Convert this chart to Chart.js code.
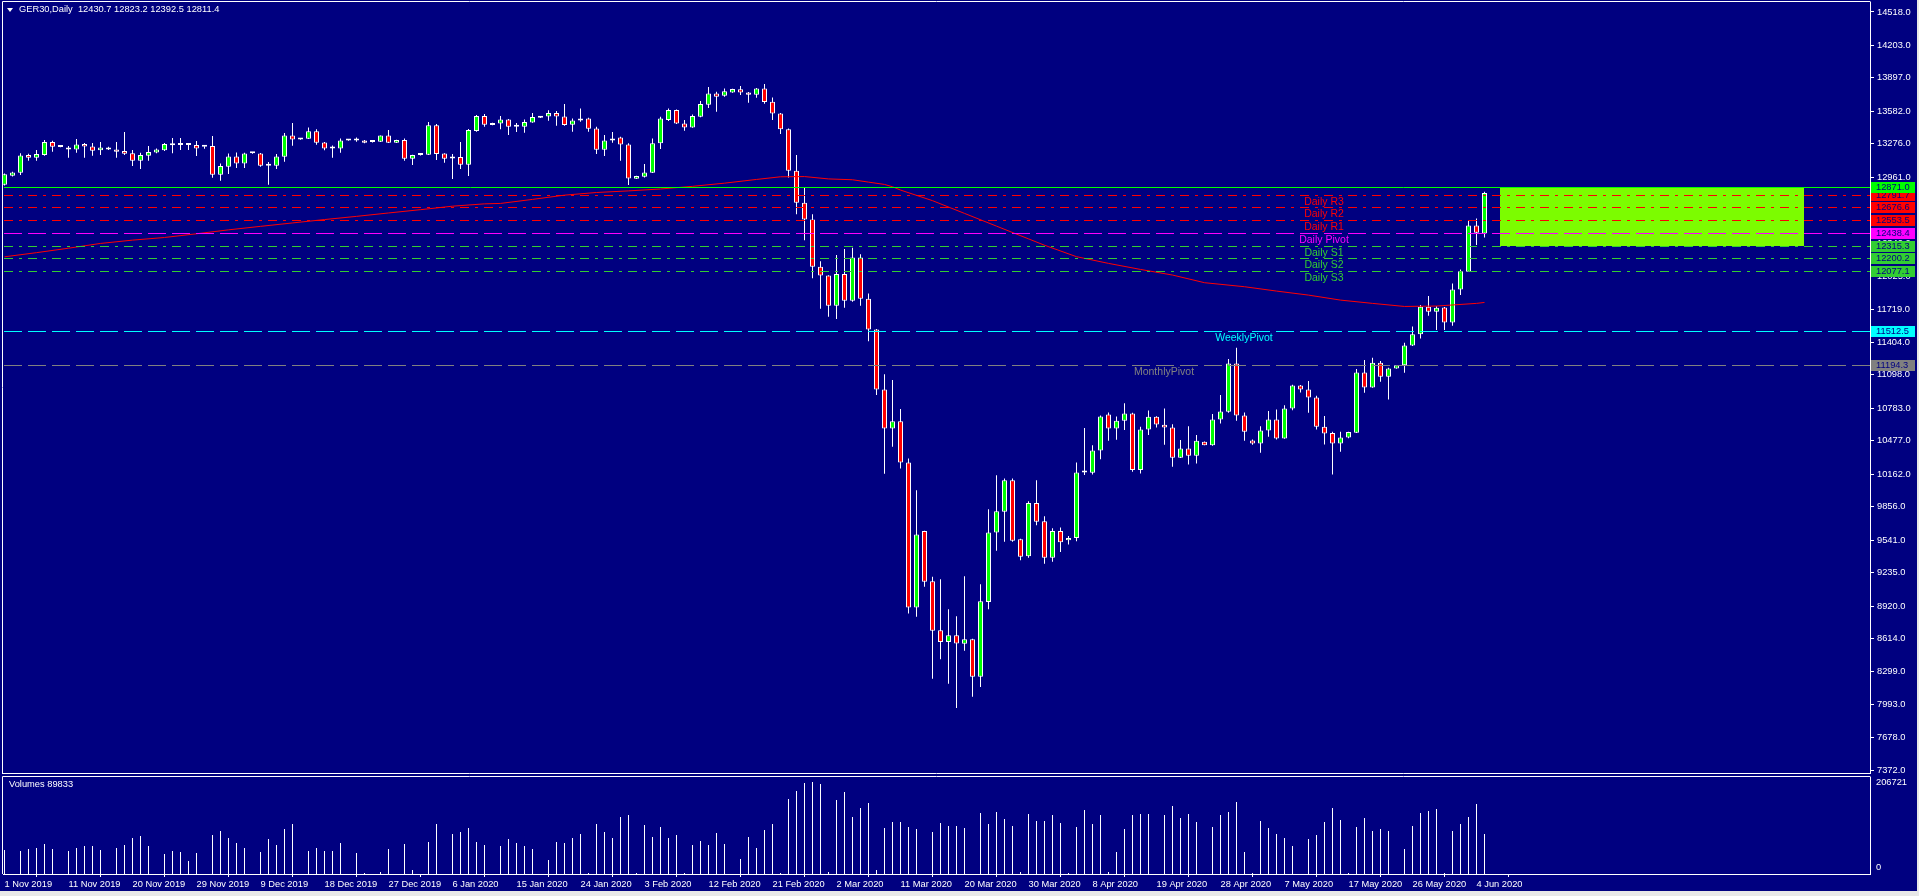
<!DOCTYPE html>
<html>
<head>
<meta charset="utf-8">
<title>GER30,Daily</title>
<script src="https://cdn.jsdelivr.net/npm/chart.js@4.4.1/dist/chart.umd.min.js"></script>
<style>
  html, body { margin: 0; padding: 0; background: #000080; overflow: hidden; }
  #wrap { position: relative; width: 1919px; height: 896px; background: #000080; }
  canvas { position: absolute; left: 0; }
  #main { top: 0; }
  #vol { top: 775px; }
  .lbl { position: absolute; color: #ffffff; font-family: "Liberation Sans", Arial, sans-serif; font-size: 9.3px; line-height: 11px; white-space: pre; }
  #tri { position: absolute; left: 7px; top: 8px; width: 0; height: 0; border-left: 3px solid transparent; border-right: 3px solid transparent; border-top: 4px solid #ffffff; }
  #frameB { position: absolute; left: 0; top: 891px; width: 1919px; height: 5px; background: #e8e8e8; }
  #frameR { position: absolute; left: 1917px; top: 0; width: 2px; height: 896px; background: #e8e8e8; }
</style>
</head>
<body>
<div id="wrap">
  <canvas id="main" width="1919" height="775"></canvas>
  <canvas id="vol" width="1919" height="121"></canvas>
  <div id="tri"></div>
  <div class="lbl" id="title" style="left:19px;top:4px;"></div>
  <div class="lbl" id="volTitle" style="left:9px;top:779px;"></div>
  <div id="frameB"></div>
  <div id="frameR"></div>
</div>
<script>
const symbolName = 'GER30,Daily';
const lastBar = [12430.7, 12823.2, 12392.5, 12811.4];
const lastVolume = 89833;

// one value per daily bar (incl. the short sunday sessions), 1 Nov 2019 .. 5 Jun 2020
const opens = [
  12890, 12975, 13003, 13170, 13145, 13170, 13292, 13250, 13242, 13223,
  13273, 13251, 13214, 13242, 13223, 13207, 13188, 13116, 13163, 13195,
  13214, 13262, 13264, 13264, 13264, 13251, 13255, 12984, 13060, 13157,
  13091, 13188, 13185, 13069, 13069, 13154, 13355, 13317, 13324, 13393,
  13289, 13232, 13232, 13308, 13327, 13308, 13296, 13295, 13355, 13286,
  13311, 13135, 13176, 13173, 13450, 13185, 13157, 13151, 13079, 13396,
  13537, 13452, 13468, 13506, 13437, 13437, 13477, 13522, 13534, 13566,
  13534, 13455, 13496, 13515, 13421, 13220, 13308, 13336, 13270, 12947,
  12965, 13003, 13280, 13500, 13594, 13468, 13430, 13531, 13644, 13751,
  13729, 13760, 13789, 13760, 13738, 13798, 13672, 13562, 13412, 13022,
  12720, 12563, 12117, 12035, 11749, 12048, 11797, 12205, 11815, 11527,
  10961, 10593, 10662, 10273, 8906, 9626, 9154, 8692, 8582, 8645,
  8564, 8608, 8253, 8959, 9613, 9808, 10106, 9550, 9390, 9890,
  9720, 9374, 9626, 9540, 9560, 10179, 10176, 10386, 10725, 10593,
  10666, 10735, 10201, 10584, 10703, 10628, 10603, 10317, 10405, 10336,
  10468, 10436, 10678, 10751, 11206, 10716, 10480, 10452, 10575, 10678,
  10499, 10782, 10999, 10961, 10886, 10609, 10550, 10452, 10509, 10553,
  11121, 10980, 11212, 11080, 11159, 11190, 11376, 11480, 11740, 11693,
  11734, 11593, 11904, 12070, 12507, 12430.7
];
const highs = [
  12997, 13012, 13188, 13182, 13217, 13311, 13305, 13256, 13254, 13320,
  13283, 13283, 13292, 13248, 13292, 13386, 13217, 13192, 13254, 13232,
  13283, 13330, 13330, 13283, 13302, 13253, 13349, 13091, 13185, 13195,
  13192, 13196, 13189, 13104, 13179, 13377, 13471, 13330, 13430, 13412,
  13292, 13261, 13327, 13322, 13336, 13311, 13299, 13355, 13405, 13314,
  13327, 13173, 13180, 13481, 13462, 13188, 13179, 13292, 13415, 13547,
  13556, 13474, 13537, 13510, 13471, 13506, 13566, 13535, 13591, 13584,
  13650, 13515, 13609, 13521, 13437, 13358, 13386, 13342, 13280, 12975,
  13085, 13327, 13531, 13609, 13600, 13500, 13553, 13679, 13811, 13767,
  13798, 13795, 13820, 13763, 13801, 13839, 13713, 13565, 13421, 13170,
  12859, 12613, 12170, 12038, 12227, 12284, 12296, 12236, 11866, 11530,
  11105, 11049, 10776, 10311, 10012, 9630, 9195, 9173, 8890, 8824,
  9201, 8612, 9126, 9833, 10153, 10122, 10122, 9555, 9908, 10106,
  9767, 9654, 9660, 9580, 10273, 10597, 10436, 10716, 10744, 10707,
  10832, 10741, 10609, 10763, 10709, 10782, 10634, 10484, 10615, 10531,
  10470, 10729, 10908, 11247, 11354, 10744, 10490, 10615, 10757, 10773,
  10813, 11005, 11003, 11040, 10901, 10710, 10562, 10562, 10562, 11153,
  11238, 11260, 11228, 11165, 11192, 11401, 11555, 11756, 11841, 11745,
  11738, 11960, 12092, 12557, 12573, 12823.2
];
const lows = [
  12884, 12968, 12981, 13116, 13116, 13163, 13201, 13244, 13144, 13192,
  13144, 13163, 13170, 13217, 13144, 13170, 13066, 13038, 13116, 13188,
  13207, 13188, 13217, 13217, 13160, 13230, 12956, 12928, 12991, 13047,
  13047, 13183, 13060, 12890, 13038, 13107, 13258, 13314, 13320, 13267,
  13214, 13144, 13192, 13305, 13295, 13280, 13289, 13293, 13283, 13283,
  13116, 13076, 13166, 13170, 13123, 13097, 12943, 13038, 12972, 13390,
  13437, 13450, 13412, 13358, 13386, 13380, 13474, 13518, 13493, 13446,
  13446, 13390, 13484, 13390, 13179, 13160, 13286, 13116, 12887, 12944,
  12959, 13000, 13226, 13490, 13462, 13399, 13427, 13525, 13613, 13578,
  13719, 13757, 13735, 13663, 13710, 13653, 13500, 13368, 12959, 12613,
  12368, 12010, 11721, 11646, 11624, 11731, 11787, 11749, 11416, 10908,
  10166, 10420, 10216, 8850, 8818, 9101, 8234, 8419, 8187, 7960,
  8498, 8064, 8158, 8890, 9440, 9525, 9525, 9352, 9374, 9682,
  9318, 9337, 9430, 9500, 9530, 10154, 10160, 10304, 10477, 10487,
  10578, 10185, 10169, 10531, 10603, 10440, 10232, 10314, 10254, 10263,
  10436, 10430, 10641, 10741, 10666, 10477, 10440, 10364, 10515, 10490,
  10496, 10766, 10933, 10741, 10584, 10443, 10160, 10374, 10500, 10550,
  10930, 10977, 11033, 10867, 11157, 11118, 11370, 11442, 11655, 11520,
  11520, 11561, 11850, 12068, 12322, 12392.5
];
const closes = [
  12990, 13006, 13166, 13145, 13179, 13292, 13248, 13246, 13223, 13270,
  13251, 13210, 13242, 13223, 13201, 13182, 13116, 13170, 13198, 13223,
  13273, 13268, 13270, 13270, 13232, 13249, 12984, 13066, 13157, 13091,
  13185, 13194, 13069, 13075, 13157, 13355, 13317, 13327, 13393, 13286,
  13232, 13235, 13308, 13320, 13308, 13286, 13293, 13355, 13286, 13311,
  13135, 13170, 13171, 13450, 13179, 13135, 13138, 13079, 13405, 13537,
  13455, 13468, 13506, 13437, 13443, 13481, 13528, 13531, 13566, 13534,
  13452, 13496, 13512, 13418, 13220, 13308, 13327, 13270, 12950, 12972,
  13006, 13280, 13515, 13594, 13468, 13430, 13537, 13650, 13751, 13719,
  13770, 13792, 13760, 13738, 13798, 13669, 13562, 13412, 13022, 12720,
  12563, 12117, 12035, 11749, 12048, 11797, 12205, 11815, 11527, 10961,
  10593, 10662, 10273, 8906, 9594, 9148, 8686, 8582, 8645, 8567,
  8608, 8253, 8966, 9613, 9814, 10106, 9534, 9384, 9890, 9714,
  9374, 9626, 9520, 9560, 10179, 10188, 10386, 10707, 10593, 10666,
  10735, 10201, 10584, 10703, 10631, 10603, 10317, 10405, 10336, 10477,
  10436, 10678, 10754, 11206, 10716, 10562, 10452, 10575, 10678, 10499,
  10782, 10999, 10961, 10886, 10609, 10546, 10452, 10509, 10559, 11121,
  10980, 11212, 11080, 11159, 11190, 11376, 11480, 11740, 11693, 11731,
  11593, 11904, 12076, 12507, 12438, 12811.4
];
const volumes = [
  53900, 0, 51700, 56200, 58400, 67400, 56200, 0, 51700, 58400,
  62900, 62900, 53900, 0, 58400, 65200, 80900, 85400, 62900, 0,
  44900, 51700, 49400, 29200, 47200, 0, 87600, 96600, 80900, 69700,
  58400, 0, 49400, 78600, 65200, 101100, 112400, 0, 51700, 58400,
  51700, 51700, 69700, 0, 47200, 2200, 0, 4500, 56200, 0,
  67400, 9000, 0, 71900, 112400, 0, 89800, 94400, 103400, 71900,
  65200, 0, 62900, 78600, 69700, 62900, 56200, 0, 31500, 71900,
  69700, 80900, 89800, 2200, 112400, 94400, 80900, 128100, 132600, 2200,
  110100, 83100, 105600, 80900, 87600, 2200, 65200, 74200, 65200, 92100,
  67400, 0, 33700, 83100, 58400, 98900, 112400, 2200, 168500, 186500,
  204500, 206721, 202200, 4500, 166300, 184300, 128100, 148300, 159500, 9000,
  103400, 116800, 116800, 105600, 101100, 0, 94400, 114600, 107900, 107900,
  103400, 0, 137100, 112400, 139300, 123600, 107900, 4500, 134800, 119100,
  119100, 132600, 114600, 2200, 105600, 143800, 112400, 132600, 4500, 49400,
  101100, 132600, 134800, 134800, 0, 132600, 152800, 125800, 134800, 116800,
  0, 105600, 132600, 139300, 161800, 49400, 2200, 119100, 103400, 89800,
  80900, 62900, 0, 78600, 87600, 116800, 148300, 121300, 2200, 105600,
  125800, 96600, 101100, 96600, 0, 56200, 107900, 137100, 141600, 146100,
  2200, 96600, 112400, 128100, 157300, 89833
];

// moving average, read at these bars
const maIdx = [0, 4, 8, 12, 16, 20, 24, 28, 32, 36, 40, 44, 48, 52, 56, 60, 62, 66, 70, 74,
  78, 82, 86, 90, 94, 97, 100, 103, 106, 108, 110, 111, 112, 116, 120, 124, 128, 130, 134, 138,
  142, 146, 150, 155, 159, 163, 167, 171, 175, 179, 184, 185];
const maVal = [12211, 12250, 12292, 12337, 12368, 12393, 12428, 12465, 12498, 12530, 12562, 12592, 12624, 12655, 12688, 12710, 12714, 12752, 12792, 12817,
  12832, 12850, 12875, 12905, 12940, 12965, 12967, 12945, 12937, 12915, 12893, 12871, 12840, 12740, 12620, 12500, 12380, 12320, 12212, 12149,
  12092, 12039, 11967, 11929, 11888, 11850, 11803, 11772, 11743, 11747, 11772, 11781];

const dateLabels = ['1 Nov 2019', '11 Nov 2019', '20 Nov 2019', '29 Nov 2019', '9 Dec 2019', '18 Dec 2019',
  '27 Dec 2019', '6 Jan 2020', '15 Jan 2020', '24 Jan 2020', '3 Feb 2020', '12 Feb 2020', '21 Feb 2020',
  '2 Mar 2020', '11 Mar 2020', '20 Mar 2020', '30 Mar 2020', '8 Apr 2020', '19 Apr 2020', '28 Apr 2020',
  '7 May 2020', '17 May 2020', '26 May 2020', '4 Jun 2020'];
const priceTicks = [14518, 14203, 13897, 13582, 13276, 12961, 12655, 12340, 12025, 11719, 11404, 11098,
  10783, 10477, 10162, 9856, 9541, 9235, 8920, 8614, 8299, 7993, 7678, 7372];
const volTicks = [206721, 0];

const levelNames = ['', 'Daily R3', 'Daily R2', 'Daily R1', 'Daily Pivot', 'Daily S1', 'Daily S2', 'Daily S3', 'WeeklyPivot', 'MonthlyPivot'];
const levelValues = [12871.0, 12791.7, 12676.6, 12553.5, 12438.4, 12315.3, 12200.2, 12077.1, 11512.5, 11194.3];

// styling / layout
const fontFam = '"Liberation Sans", Arial, sans-serif';
const upColor = '#00ff00', downColor = '#ff0000';
const dashDot = [9, 6, 3, 6], dashLong = [18, 6];
const levelColors = ['#00ff00', '#ff0000', '#ff0000', '#ff0000', '#ff00ff', '#32cd32', '#32cd32', '#32cd32', '#00ffff', '#808080'];
const levelDash = [[], dashDot, dashDot, dashDot, dashLong, dashDot, dashDot, dashDot, dashLong, dashLong];
const levelTextX = [0, 1324, 1324, 1324, 1324, 1324, 1324, 1324, 1244, 1164];
const xMin = -0.1875, xMax = 233.1875;
const zoneFrom = 186.94, zoneTo = 224.94;

document.getElementById('title').textContent = symbolName + '  ' + lastBar.map(v => v.toFixed(1)).join(' ');
document.getElementById('volTitle').textContent = 'Volumes ' + lastVolume;

const bodies = opens.map((o, i) => ({ x: i, y: [o, closes[i]] }));
const wicks = highs.map((h, i) => ({ x: i, y: [lows[i], h] }));
const bodyColors = opens.map((o, i) => closes[i] >= o ? upColor : downColor);

const mainDeco = {
  id: 'mainDeco',
  beforeDatasetsDraw(chart) {
    const { ctx, scales: { x, y } } = chart;
    const x0 = Math.round(x.getPixelForValue(zoneFrom));
    const x1 = Math.round(x.getPixelForValue(zoneTo));
    const y0 = Math.round(y.getPixelForValue(levelValues[0]));
    const y1 = Math.round(y.getPixelForValue(levelValues[5]));
    ctx.save();
    ctx.fillStyle = '#7cfc00';
    ctx.fillRect(x0, y0, x1 - x0, y1 - y0);
    ctx.restore();
  },
  afterDatasetsDraw(chart) {
    const { ctx, chartArea: a, scales: { x, y } } = chart;
    const startX = x.getPixelForValue(-0.0625);
    ctx.save();
    ctx.lineWidth = 1;
    levelValues.forEach((v, k) => {
      const py = Math.round(y.getPixelForValue(v)) + 0.5;
      ctx.strokeStyle = levelColors[k];
      ctx.setLineDash(levelDash[k]);
      ctx.beginPath();
      ctx.moveTo(startX, py);
      ctx.lineTo(a.right, py);
      ctx.stroke();
    });
    ctx.setLineDash([]);
    ctx.font = '10.5px ' + fontFam;
    ctx.textAlign = 'center';
    ctx.textBaseline = 'middle';
    levelValues.forEach((v, k) => {
      if (!levelNames[k]) return;
      const py = Math.round(y.getPixelForValue(v));
      ctx.fillStyle = levelColors[k];
      ctx.fillText(levelNames[k], levelTextX[k], py + 7);
    });
    ctx.restore();
  },
  afterDraw(chart) {
    const { ctx, chartArea: a, scales: { y } } = chart;
    ctx.save();
    ctx.strokeStyle = '#ffffff';
    ctx.lineWidth = 1;
    ctx.beginPath();
    ctx.moveTo(a.left - 0.5, a.bottom + 0.5);
    ctx.lineTo(a.left - 0.5, a.top - 0.5);
    ctx.lineTo(a.right + 0.5, a.top - 0.5);
    ctx.moveTo(a.left - 1, a.bottom + 0.5);
    ctx.lineTo(a.right + 1, a.bottom + 0.5);
    ctx.stroke();
    ctx.font = '9.3px ' + fontFam;
    ctx.textAlign = 'left';
    ctx.textBaseline = 'middle';
    for (let k = levelValues.length - 1; k >= 0; k--) {
      const py = Math.round(y.getPixelForValue(levelValues[k]));
      ctx.fillStyle = levelColors[k];
      ctx.fillRect(a.right + 1, py - 5, 44, 11);
      ctx.fillStyle = '#000080';
      ctx.fillText(levelValues[k].toFixed(1), a.right + 6, py + 0.5);
    }
    ctx.restore();
  }
};

new Chart(document.getElementById('main'), {
  type: 'bar',
  data: {
    datasets: [
      { type: 'line', data: maIdx.map((v, k) => ({ x: v, y: maVal[k] })), borderColor: '#ff0000', borderWidth: 1, pointRadius: 0, tension: 0, order: 1 },
      { data: bodies, backgroundColor: bodyColors, borderColor: '#ffffff', borderWidth: 1, borderSkipped: false, barThickness: 5, grouped: false, minBarLength: 2, inflateAmount: 0, order: 2 },
      { data: wicks, backgroundColor: '#ffffff', borderWidth: 0, barThickness: 1, grouped: false, inflateAmount: 0, order: 3 }
    ]
  },
  options: {
    responsive: false,
    animation: false,
    events: [],
    layout: { padding: { left: 3, top: 2, right: 0, bottom: 2 } },
    plugins: { legend: { display: false }, tooltip: { enabled: false } },
    scales: {
      x: { type: 'linear', display: false, min: xMin, max: xMax, offset: false },
      y: {
        position: 'right',
        min: 7346.4,
        max: 14612.2,
        afterBuildTicks: s => { s.ticks = priceTicks.map(v => ({ value: v })); },
        afterFit: s => { s.width = 49; s.paddingTop = 0; s.paddingBottom = 0; },
        ticks: { color: '#ffffff', font: { family: fontFam, size: 9.3 }, padding: 3, autoSkip: false, callback: v => v.toFixed(1) },
        grid: { drawOnChartArea: false, color: '#ffffff', tickLength: 4 },
        border: { color: '#ffffff' }
      }
    }
  },
  plugins: [mainDeco]
});

const volDeco = {
  id: 'volDeco',
  afterDraw(chart) {
    const { ctx, chartArea: a, scales: { y } } = chart;
    ctx.save();
    ctx.strokeStyle = '#ffffff';
    ctx.lineWidth = 1;
    ctx.beginPath();
    ctx.moveTo(a.left - 0.5, a.bottom);
    ctx.lineTo(a.left - 0.5, a.top - 0.5);
    ctx.lineTo(a.right + 0.5, a.top - 0.5);
    ctx.stroke();
    ctx.fillStyle = '#ffffff';
    ctx.font = '9.3px ' + fontFam;
    ctx.textAlign = 'left';
    ctx.textBaseline = 'middle';
    ctx.fillText(String(volTicks[0]), a.right + 6, y.getPixelForValue(volTicks[0]));
    ctx.fillText(String(volTicks[1]), a.right + 6, y.getPixelForValue(volTicks[1]) - 7);
    ctx.restore();
  }
};

new Chart(document.getElementById('vol'), {
  type: 'bar',
  data: {
    datasets: [
      { data: volumes.map((v, i) => ({ x: i, y: v })), backgroundColor: '#ffffff', borderWidth: 0, barThickness: 1, inflateAmount: 0 }
    ]
  },
  options: {
    responsive: false,
    animation: false,
    events: [],
    layout: { padding: { left: 3, top: 2, right: 0, bottom: 0 } },
    plugins: { legend: { display: false }, tooltip: { enabled: false } },
    scales: {
      x: {
        type: 'linear',
        min: xMin,
        max: xMax,
        offset: false,
        afterBuildTicks: s => { s.ticks = dateLabels.map((d, k) => ({ value: k * 8 })); },
        afterFit: s => { s.height = 22; s.paddingLeft = 0; s.paddingRight = 0; },
        ticks: { color: '#ffffff', font: { family: fontFam, size: 9.3 }, padding: 2, align: 'start', autoSkip: false, maxRotation: 0, minRotation: 0, callback: (v, k) => dateLabels[k] },
        grid: { drawOnChartArea: false, color: '#ffffff', tickLength: 3 },
        border: { color: '#ffffff' }
      },
      y: {
        position: 'right',
        min: 0,
        max: 218000,
        afterFit: s => { s.width = 49; s.paddingTop = 0; s.paddingBottom = 0; },
        ticks: { display: false },
        grid: { display: false },
        border: { color: '#ffffff' }
      }
    }
  },
  plugins: [volDeco]
});
</script>
</body>
</html>
